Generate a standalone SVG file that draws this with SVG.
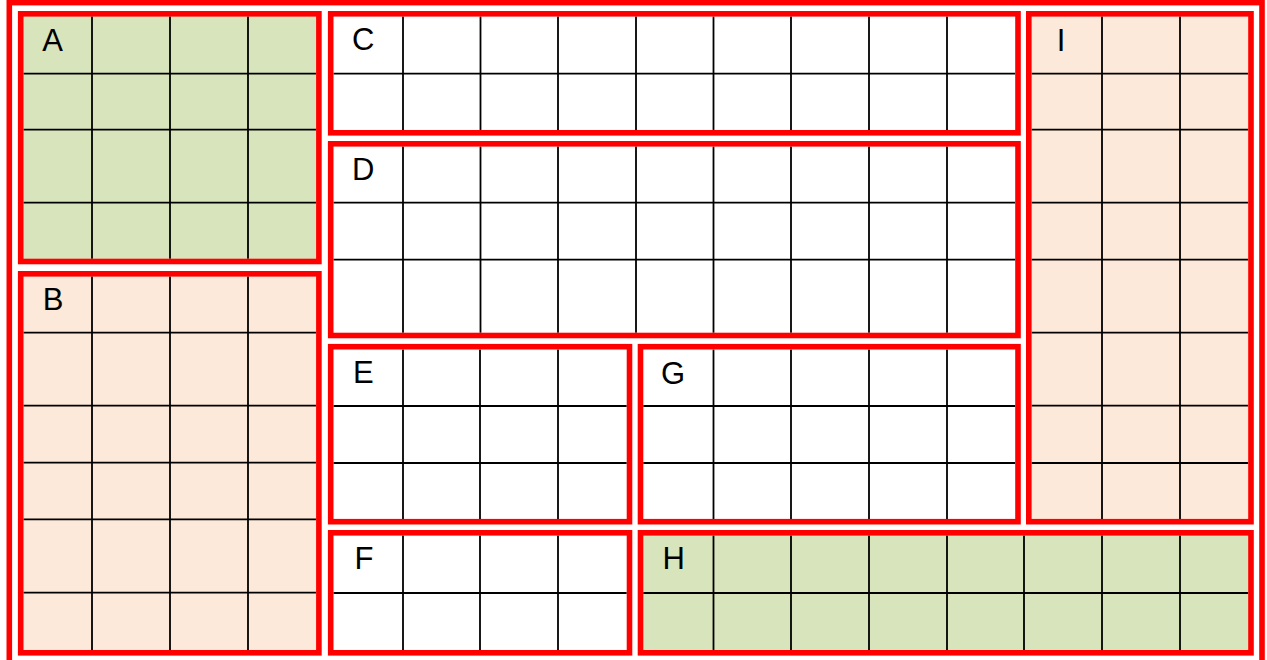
<svg xmlns="http://www.w3.org/2000/svg" width="1267" height="660" viewBox="0 0 1267 660">
<style>
.frame{fill:none;stroke:#ff0000;stroke-width:5.6}
.grid{fill:none;stroke:#000;stroke-width:1.8}
.green{fill:#d8e4bc}
.peach{fill:#fde9d9}
.white{fill:#ffffff}
.lbl{font-family:"Liberation Sans",Arial,sans-serif;font-size:31px;fill:#000;text-anchor:middle}
</style>
<rect x="0" y="0" width="1267" height="660" fill="#ffffff"/>
<g id="outer"><rect class="frame" x="9.3" y="2.6" width="1252.7" height="662"/></g>
<g id="A">
<rect class="green" x="20.7" y="13.8" width="298.2" height="247.7"/>
<path class="grid" d="M92 16.6V258.7M170 16.6V258.7M248 16.6V258.7M23.5 73.7H316M23.5 129.7H316M23.5 202.7H316"/>
<rect class="frame" x="20.7" y="13.8" width="298.2" height="247.7"/>
<text class="lbl" x="52.5" y="50.7">A</text>
</g>
<g id="B">
<rect class="peach" x="20.7" y="273.8" width="298.2" height="379"/>
<path class="grid" d="M92 276.6V650M170 276.6V650M248 276.6V650M23.5 332.7H316M23.5 405.7H316M23.5 462.7H316M23.5 519.3H316M23.5 592.7H316"/>
<rect class="frame" x="20.7" y="273.8" width="298.2" height="379"/>
<text class="lbl" x="53" y="310">B</text>
</g>
<g id="C">
<rect class="white" x="330.7" y="13.8" width="687.3" height="119"/>
<path class="grid" d="M403 16.6V130M480.5 16.6V130M558 16.6V130M636 16.6V130M713.5 16.6V130M791 16.6V130M869 16.6V130M947 16.6V130M333.5 73.7H1015.2"/>
<rect class="frame" x="330.7" y="13.8" width="687.3" height="119"/>
<text class="lbl" x="363.3" y="50.2">C</text>
</g>
<g id="D">
<rect class="white" x="330.7" y="143.8" width="687.3" height="191.7"/>
<path class="grid" d="M403 146.6V332.7M480.5 146.6V332.7M558 146.6V332.7M636 146.6V332.7M713.5 146.6V332.7M791 146.6V332.7M869 146.6V332.7M947 146.6V332.7M333.5 202.7H1015.2M333.5 259.7H1015.2"/>
<rect class="frame" x="330.7" y="143.8" width="687.3" height="191.7"/>
<text class="lbl" x="363.3" y="180">D</text>
</g>
<g id="E">
<rect class="white" x="330.7" y="346.7" width="298.8" height="175"/>
<path class="grid" d="M403 349.5V518.9M480 349.5V518.9M558 349.5V518.9M333.5 406H626.7M333.5 463H626.7"/>
<rect class="frame" x="330.7" y="346.7" width="298.8" height="175"/>
<text class="lbl" x="363.3" y="383.3">E</text>
</g>
<g id="F">
<rect class="white" x="330.7" y="532.8" width="298.8" height="120"/>
<path class="grid" d="M403 535.6V650M480 535.6V650M558 535.6V650M333.5 593H626.7"/>
<rect class="frame" x="330.7" y="532.8" width="298.8" height="120"/>
<text class="lbl" x="364" y="569.3">F</text>
</g>
<g id="G">
<rect class="white" x="640.5" y="346.7" width="377.5" height="175"/>
<path class="grid" d="M713.5 349.5V518.9M791 349.5V518.9M869 349.5V518.9M947 349.5V518.9M643.3 406H1015.2M643.3 463H1015.2"/>
<rect class="frame" x="640.5" y="346.7" width="377.5" height="175"/>
<text class="lbl" x="673" y="383.5">G</text>
</g>
<g id="H">
<rect class="green" x="640.5" y="532.8" width="610.5" height="120"/>
<path class="grid" d="M713.5 535.6V650M791 535.6V650M869 535.6V650M947 535.6V650M1024 535.6V650M1102 535.6V650M1180 535.6V650M643.3 593H1248.2"/>
<rect class="frame" x="640.5" y="532.8" width="610.5" height="120"/>
<text class="lbl" x="673.7" y="569.3">H</text>
</g>
<g id="I">
<rect class="peach" x="1028.8" y="13.8" width="222.2" height="507.9"/>
<path class="grid" d="M1102 16.6V518.9M1180 16.6V518.9M1031.6 73.7H1248.2M1031.6 129.7H1248.2M1031.6 202.7H1248.2M1031.6 259.7H1248.2M1031.6 332.7H1248.2M1031.6 405.7H1248.2M1031.6 463H1248.2"/>
<rect class="frame" x="1028.8" y="13.8" width="222.2" height="507.9"/>
<text class="lbl" x="1061" y="50.7">I</text>
</g>
</svg>
